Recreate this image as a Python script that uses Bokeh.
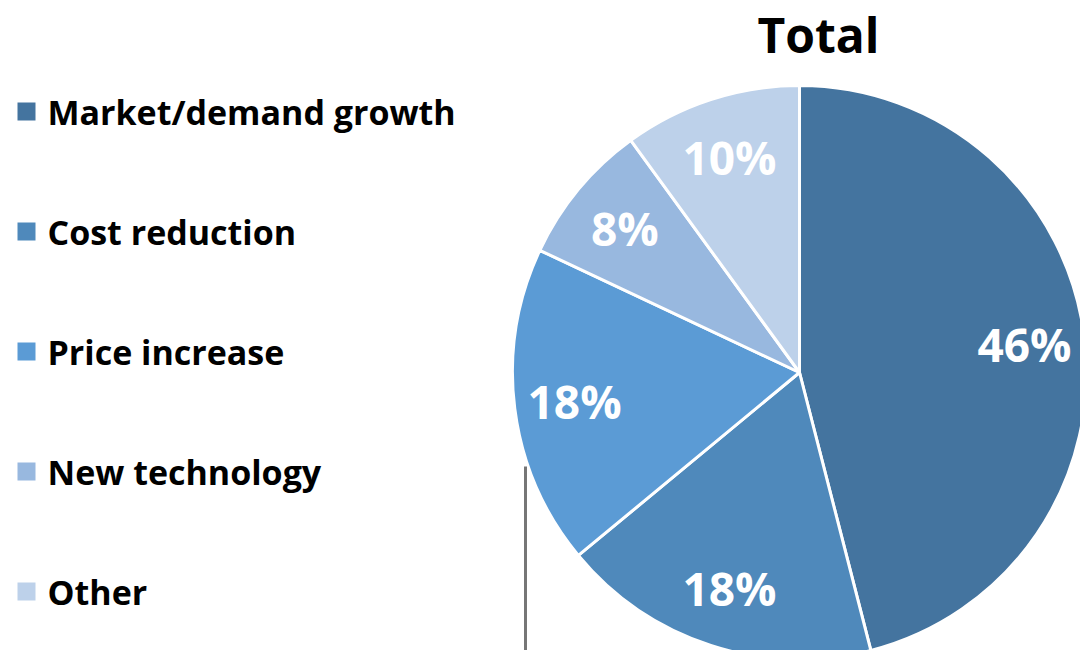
from bokeh.plotting import figure
from bokeh.models import ColumnDataSource
from bokeh.core.properties import value
from bokeh.embed import file_html
from bokeh.resources import INLINE
import math

categories = ["Market/demand growth", "Cost reduction", "Price increase", "New technology", "Other"]
shares = [46, 18, 18, 8, 10]
labels = ["46%", "18%", "18%", "8%", "10%"]
colors = ["#44749f", "#4f89bb", "#5b9bd5", "#98b8df", "#bdd1ea"]
title_text = "Total"

W, H = 1080, 650
FONT = "Open Sans"

p = figure(width=W, height=H, output_backend="svg", toolbar_location=None,
           x_range=(0, W), y_range=(0, H), min_border=0,
           outline_line_color=None)
p.axis.visible = False
p.grid.visible = False
p.background_fill_color = "white"
p.border_fill_color = "white"

# pie geometry (pixel units)
cx, cy, R = 799, H - 372, 287
total = float(sum(shares))
starts, ends, lx, ly = [], [], [], []
cum = 0.0
for s in shares:
    a0 = 90 - cum / total * 360
    cum += s
    a1 = 90 - cum / total * 360
    starts.append(a1)
    ends.append(a0)
    mid = math.radians((a0 + a1) / 2)
    lx.append(cx + 0.79 * R * math.cos(mid))
    ly.append(cy + 0.79 * R * math.sin(mid))

src = ColumnDataSource(dict(start=starts, end=ends, color=colors, label=labels, lx=lx, ly=ly,
                            cat=categories))
p.wedge(x=cx, y=cy, radius=R, start_angle="start", end_angle="end", start_angle_units="deg",
        end_angle_units="deg", direction="anticlock", fill_color="color",
        line_color="white", line_width=3, source=src)
p.text(x="lx", y="ly", text="label", source=src, text_color="white",
       text_font=value(FONT), text_font_style="bold", text_font_size="46px",
       text_align="center", text_baseline="middle")

# title
p.text(x=[cx + 19], y=[H - 34], text=[title_text], text_font=value(FONT),
       text_font_style="bold", text_font_size="48px", text_color="black",
       text_align="center", text_baseline="middle")

# legend
leg_y = [H - 111 - 120 * i for i in range(len(categories))]
p.rect(x=[26] * len(categories), y=leg_y, width=18, height=18, fill_color=colors, line_color=None)
p.text(x=[47] * len(categories), y=leg_y, text=categories, text_font=value(FONT),
       text_font_style="bold", text_font_size="34px", text_color="black",
       text_align="left", text_baseline="middle")

# vertical gray line
p.segment(x0=[525], y0=[H - 466], x1=[525], y1=[0], line_color="#767676", line_width=3)

open("out.html", "w").write(file_html(p, INLINE))
